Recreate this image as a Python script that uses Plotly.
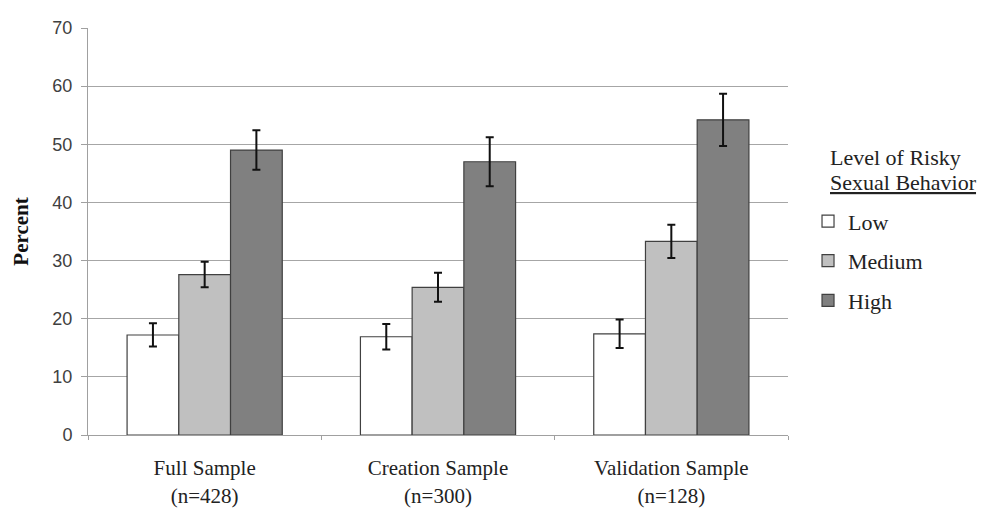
import plotly.graph_objects as go

categories = ["Full Sample<br>(n=428)", "Creation Sample<br>(n=300)", "Validation Sample<br>(n=128)"]
series_names = ["Low", "Medium", "High"]
low_vals = [17.2, 16.9, 17.4]
low_err = [2.0, 2.2, 2.45]
med_vals = [27.6, 25.4, 33.3]
med_err = [2.2, 2.5, 2.85]
high_vals = [49.0, 47.0, 54.2]
high_err = [3.4, 4.2, 4.5]
colors = ["#ffffff", "#c0c0c0", "#808080"]
y_ticks = [0, 10, 20, 30, 40, 50, 60, 70]
legend_title_lines = ["Level of Risky", "<u>Sexual Behavior</u>"]

fig = go.Figure()
for i, (name, vals, errs) in enumerate(zip(series_names, [low_vals, med_vals, high_vals], [low_err, med_err, high_err])):
    fig.add_trace(go.Bar(
        x=categories, y=vals, name=name, legendgroup=name,
        marker=dict(color=colors[i], line=dict(color="#404040", width=1.2)),
        error_y=dict(type="data", array=errs, color="#111111", thickness=2, width=4),
    ))

serif = "Liberation Serif, Times New Roman, serif"
for j, (line, yy) in enumerate(zip(legend_title_lines, [0.681, 0.621])):
    fig.add_annotation(
        text=line, xref="paper", yref="paper", x=1.057, y=yy,
        xanchor="left", yanchor="middle", showarrow=False,
        font=dict(family=serif, size=22, color="#222222"),
    )

fig.update_layout(
    width=990, height=510,
    margin=dict(l=80, r=210, t=10, b=83),
    paper_bgcolor="white", plot_bgcolor="white",
    barmode="group", bargap=0.335, bargroupgap=0,
    font=dict(family=serif, color="#222222"),
    legend=dict(
        x=1.0286, y=0.428, xanchor="left", yanchor="middle",
        font=dict(family=serif, size=22, color="#222222"),
        traceorder="grouped", tracegroupgap=8, itemwidth=30,
    ),
    xaxis=dict(
        showline=True, linecolor="#a0a0a0", linewidth=1,
        ticks="outside", tickson="boundaries", ticklen=4, tickcolor="#a0a0a0",
        tickfont=dict(family=serif, size=21, color="#222222"),
        ticklabelstandoff=14,
        showgrid=False,
    ),
    yaxis=dict(
        range=[0, 70], tickvals=y_ticks, showline=True, linecolor="#a0a0a0", linewidth=1,
        ticks="outside", ticklen=6, tickcolor="#a0a0a0",
        showgrid=True, gridcolor="#a6a6a6", gridwidth=1,
        tickfont=dict(family="Liberation Sans, Arial, sans-serif", size=18, color="#404040"),
        ticklabelstandoff=5,
        title=dict(text="<b>Percent</b>", font=dict(family=serif, size=21, color="#111111"), standoff=18),
        zeroline=False,
    ),
)
fig.write_html("out.html")
